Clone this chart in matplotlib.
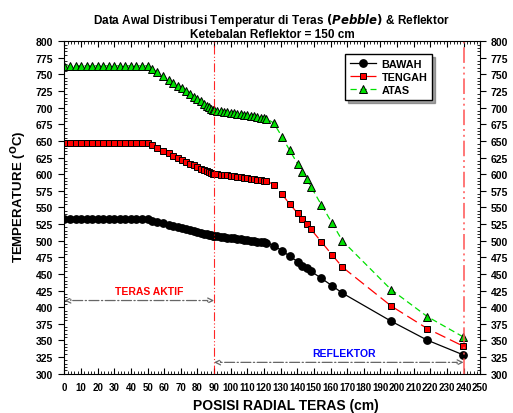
import matplotlib
matplotlib.use("Agg")
import matplotlib.pyplot as plt
from matplotlib.ticker import MultipleLocator
import numpy as np

plt.rcParams["font.family"] = ["Liberation Sans", "DejaVu Sans"]
plt.rcParams["font.weight"] = "bold"

# Posisi radial (cm): teras aktif (0-90) dan reflektor (90-240)
POS_FLAT = [0.0, 3.3, 6.7, 10.0, 13.3, 16.7, 20.0, 23.3, 26.7, 30.0,
            33.3, 36.7, 40.0, 43.3, 46.7, 50.0]
POS_TRANS = [52.5, 55.8, 59.3, 62.7, 65.4, 68.0, 70.6, 73.0, 75.4, 77.7,
             80.0, 82.1, 84.0, 85.6, 87.0, 88.3, 89.3, 90.0]
POS_INNER = [92.0, 94.0, 96.0, 98.0, 100.0, 102.0, 104.0, 106.0, 108.0,
             110.0, 112.0, 114.0, 116.0, 118.0, 120.0, 121.5]
POS_REFL = [125.8, 130.8, 135.4, 140.2, 142.8, 145.6, 148.2, 154.4,
            160.8, 167.2, 196.4, 218.2, 239.8]

ATAS = ([763.0] * 16 +
        [758.4, 753.4, 747.4, 741.4, 737.4, 733.2, 729.3, 724.8, 720.8,
         716.7, 713.3, 709.8, 706.2, 703.2, 700.5, 698.4, 697.0, 696.0] +
        [695.3, 694.6, 693.9, 693.2, 692.4, 691.7, 690.9, 690.1, 689.3,
         688.5, 687.6, 686.8, 685.9, 685.0, 684.1, 683.5] +
        [677.1, 656.5, 636.1, 615.5, 603.9, 593.0, 581.4, 554.3, 527.2,
         499.7, 426.5, 385.9, 355.3])
TENGAH = ([647.0] * 16 +
          [644.5, 640.0, 635.5, 631.6, 628.0, 625.0, 622.0, 619.0, 616.0,
           613.5, 611.0, 608.4, 606.5, 604.5, 603.0, 601.8, 601.0, 600.5] +
          [599.9, 599.3, 598.7, 598.1, 597.5, 596.8, 596.1, 595.4, 594.7,
           594.0, 593.3, 592.6, 591.8, 591.0, 590.3, 589.8] +
          [584.4, 570.0, 555.3, 541.4, 533.2, 525.3, 517.3, 498.6, 479.1,
           460.2, 401.9, 367.8, 341.4])
BAWAH = ([532.0] * 16 +
         [530.3, 528.4, 526.2, 524.0, 522.5, 520.9, 519.4, 517.8, 516.3,
          514.7, 513.5, 512.2, 510.8, 509.7, 508.7, 507.9, 507.4, 507.0] +
         [506.4, 505.8, 505.2, 504.6, 504.0, 503.4, 502.8, 502.2, 501.5,
          500.8, 500.1, 499.4, 498.7, 498.0, 497.4, 497.0] +
         [492.6, 485.1, 476.7, 468.6, 462.6, 458.6, 454.1, 443.6, 432.5,
          421.1, 379.0, 350.4, 328.3])

POS = np.array(POS_FLAT + POS_TRANS + POS_INNER + POS_REFL)

fig = plt.figure(figsize=(5.13, 4.14), dpi=100)
ax = fig.add_axes([0.124, 0.095, 0.812, 0.803])

ax.plot(POS, BAWAH, "-", color="black", lw=0.9, marker="o", ms=5.3,
        mfc="black", mec="black", label="BAWAH")
ax.plot(POS, TENGAH, color="red", lw=0.9, dashes=(9, 4), marker="s", ms=4.7,
        mfc="red", mec="black", mew=0.7, label="TENGAH")
ax.plot(POS, ATAS, color="#00e000", lw=0.9, dashes=(5, 3), marker="^", ms=5.3,
        mfc="#00e000", mec="black", mew=0.7, label="ATAS")

# batas teras aktif dan batas luar reflektor
ax.axvline(90, color="red", lw=0.8, dashes=(8, 2, 1, 2, 1, 2), alpha=0.85)
ax.axvline(240, color="#ff5555", lw=1.4, dashes=(8, 2, 1, 2, 1, 2), alpha=0.8)

arrow_kw = dict(arrowstyle="<|-|>", color="#666666", lw=0.9, ls=(0, (8, 2, 1, 2)),
                mutation_scale=9, shrinkA=0, shrinkB=0)
ax.annotate("", xy=(0, 410), xytext=(90, 410),
            arrowprops=dict(arrow_kw, fc="white"))
ax.annotate("", xy=(90, 317), xytext=(240, 317),
            arrowprops=dict(arrow_kw, fc="white"))
ax.text(51, 424, "TERAS AKTIF", color="red", fontsize=7.5, fontweight="bold",
        ha="center", va="center")
ax.text(168, 331, "REFLEKTOR", color="blue", fontsize=7.5, fontweight="bold",
        ha="center", va="center")

ax.set_xlim(-0.5, 250)
ax.set_ylim(300, 800)
ax.xaxis.set_major_locator(MultipleLocator(10))
ax.xaxis.set_minor_locator(MultipleLocator(2))
ax.yaxis.set_major_locator(MultipleLocator(25))
ax.yaxis.set_minor_locator(MultipleLocator(5))
ax.tick_params(axis="x", which="both", direction="in", top=True, labelsize=7, pad=6)
ax.tick_params(axis="x", which="major", length=4)
ax.tick_params(axis="x", which="minor", length=2)
ax.tick_params(axis="y", which="major", direction="out", length=4, right=True,
               labelright=True, labelsize=7.5)
ax.tick_params(axis="y", which="minor", direction="in", length=2, right=True)
for lbl in ax.get_xticklabels() + ax.get_yticklabels():
    lbl.set_fontweight("bold")

ax.set_xlabel("POSISI RADIAL TERAS (cm)", fontsize=10, fontweight="bold")
ax.xaxis.set_label_coords(0.534, -0.072)
ax.set_ylabel("TEMPERATURE ($\\mathbf{^{O}}$C)", fontsize=9.5, fontweight="bold")
ax.yaxis.set_label_coords(-0.082, 0.536)
ax.set_title("Data Awal Distribusi Temperatur di Teras $\\mathit{(Pebble)}$ & Reflektor\n"
             "Ketebalan Reflektor = 150 cm", fontsize=8.5, fontweight="bold",
             linespacing=1.0, pad=3)

leg = ax.legend(loc="upper left", bbox_to_anchor=(0.676, 0.962), borderaxespad=0,
                fontsize=7.8, frameon=True, fancybox=False, shadow=True,
                handlelength=2.4, handletextpad=0.5, borderpad=0.45,
                labelspacing=0.3)
leg.get_frame().set_edgecolor("black")
leg.get_frame().set_linewidth(1.0)
for t in leg.get_texts():
    t.set_fontweight("bold")

fig.savefig("out.png", dpi=100)
